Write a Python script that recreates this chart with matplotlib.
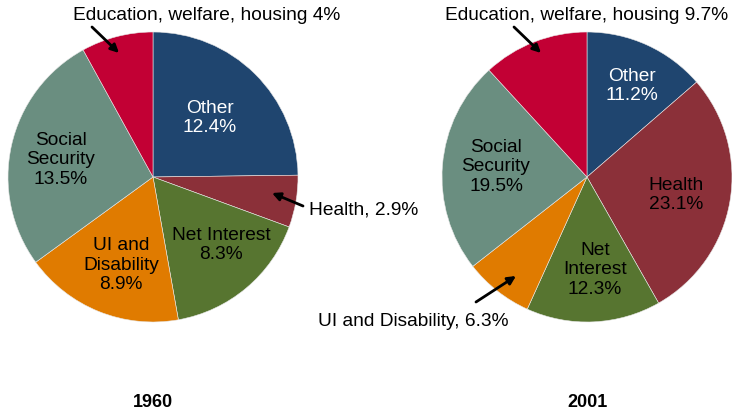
import matplotlib
matplotlib.use("Agg")
import matplotlib.pyplot as plt

plt.rcParams['font.family'] = ['Liberation Sans', 'DejaVu Sans']

categories = ["Other", "Health", "Net Interest", "UI and Disability", "Social Security", "Education, welfare, housing"]
values_1960 = [12.4, 2.9, 8.3, 8.9, 13.5, 4.0]
values_2001 = [11.2, 23.1, 12.3, 6.3, 19.5, 9.7]
years = ["1960", "2001"]
colors = ["#1F456F", "#8B3039", "#577530", "#E07B00", "#6A8E80", "#C20034"]

W, H = 732, 410
fig = plt.figure(figsize=(W / 100, H / 100), dpi=100)
ax = fig.add_axes([0, 0, 1, 1])

R = 145
centers = [(153, H - 178), (587, H - 178)]
for vals, c in zip([values_1960, values_2001], centers):
    ax.pie(vals, colors=colors, startangle=90, counterclock=False,
           center=c, radius=R, frame=True,
           wedgeprops=dict(linewidth=0.4, edgecolor="#e8e8e8"))

ax.set_xlim(0, W)
ax.set_ylim(0, H)
ax.set_aspect('equal', adjustable='box')
ax.axis('off')

fs = 13.8
def T(x, y, s, color="black", ha="center", **kw):
    ax.text(x, H - y, s, color=color, ha=ha, va="center", fontsize=fs,
            linespacing=1.2, **kw)

def arrow(x0, y0, x1, y1):
    ax.annotate("", xy=(x1, H - y1), xytext=(x0, H - y0),
                arrowprops=dict(arrowstyle="-|>", color="black", lw=2,
                                mutation_scale=12, shrinkA=0, shrinkB=0))

# 1960
T(207, 16, f"Education, welfare, housing {values_1960[5]:g}%")
arrow(92, 28, 119, 54)
T(210, 118, f"Other\n{values_1960[0]}%", color="white")
T(61, 160, f"Social\nSecurity\n{values_1960[4]}%")
T(309, 210, f"Health, {values_1960[1]}%", ha="left")
arrow(303, 207, 272, 194)
T(121, 265, f"UI and\nDisability\n{values_1960[3]}%")
T(221, 245, f"Net Interest\n{values_1960[2]}%")
ax.text(153, H - 403, years[0], ha="center", va="center", fontsize=13, fontweight="bold")

# 2001
T(587, 16, f"Education, welfare, housing {values_2001[5]}%")
arrow(514, 28, 541, 54)
T(632, 86, f"Other\n{values_2001[0]}%", color="white")
T(496, 167, f"Social\nSecurity\n{values_2001[4]}%")
T(676, 195, f"Health\n{values_2001[1]}%")
T(595, 270, f"Net\nInterest\n{values_2001[2]}%")
T(509, 322, f"UI and Disability, {values_2001[3]}%", ha="right")
arrow(476, 303, 516, 277)
ax.text(587, H - 403, years[1], ha="center", va="center", fontsize=13, fontweight="bold")

fig.savefig("out.png", dpi=100)
